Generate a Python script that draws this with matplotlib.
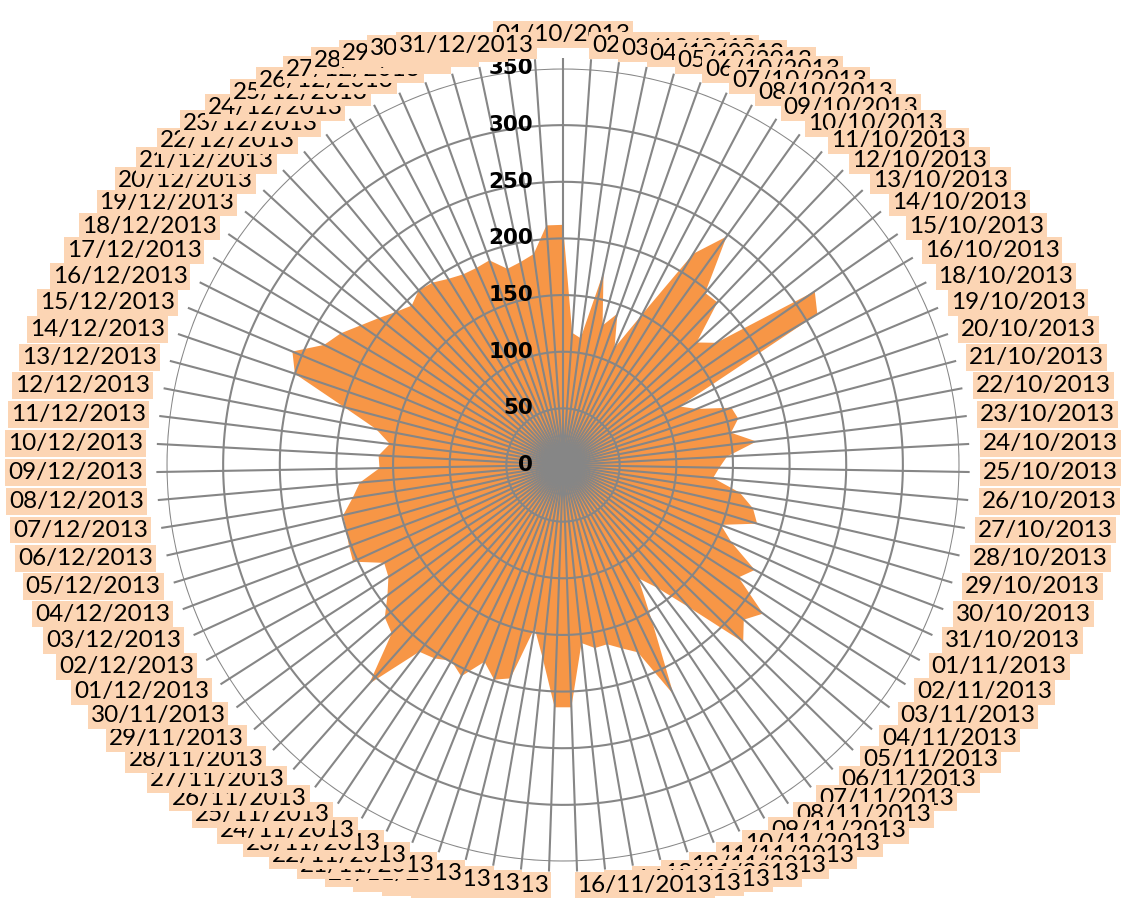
import numpy as np
import pandas as pd
import matplotlib
matplotlib.use('Agg')
import matplotlib.pyplot as plt
from matplotlib.transforms import offset_copy

# catégories : 01/10/2013 -> 31/12/2013, sans le 17/10 (absent du graphique)
days = pd.date_range('2013-10-01', '2013-12-31', freq='D')
days = days[days != pd.Timestamp('2013-10-17')]
categories = [d.strftime('%d/%m/%Y') for d in days]

values_oct = [212, 117, 113, 174, 128, 142, 113, 150, 219, 248, 197, 198, 160, 173, 270, 261,
              115, 128, 157, 160, 151, 172, 145, 138, 133, 158, 172, 179, 149, 164]
values_nov = [193, 184, 220, 210, 223, 168, 137, 120, 159, 225, 178, 170, 163, 164, 158,
              214, 214, 172, 146, 194, 199, 187, 207, 199, 205, 208, 258, 212, 207, 193]
values_dec = [183, 180, 204, 202, 200, 199, 188, 180, 162, 163, 154, 168, 200, 250, 259, 236,
              228, 217, 208, 200, 194, 200, 198, 193, 190, 190, 192, 180, 183, 188, 212]
values = values_oct + values_nov + values_dec

rings = [0, 50, 100, 150, 200, 250, 300, 350]

FILL = '#F79646'
LABEL_BG = '#FCD5B4'
GRID = '#868686'

n = len(categories)
theta = np.arange(n) * 2 * np.pi / n

fig = plt.figure(figsize=(11.25, 9.06), dpi=100)
ax = fig.add_axes([0.148, 0.0491, 0.7049, 0.8753], projection='polar')
ax.set_theta_zero_location('N')
ax.set_theta_direction(-1)
ax.set_ylim(0, 350)
ax.set_axis_off()

# --- surface remplie ---
ax.fill(np.append(theta, theta[0]), np.append(values, values[0]), color=FILL, lw=0, zorder=1)

# --- grille (cercles + rayons) ---
circ = np.linspace(0, 2 * np.pi, 600)
for r in rings[1:]:
    ax.plot(circ, np.full_like(circ, r), color=GRID, lw=1.5, zorder=2)
ax.vlines(theta, 0, 359, colors=GRID, lw=1.5, zorder=2, clip_on=False)

# --- étiquettes de l'axe des valeurs ---
trans = offset_copy(ax.transData, fig=fig, x=-30, y=0, units='dots')
for r in rings:
    ax.text(0, r, str(r), transform=trans, ha='right', va='center',
            fontsize=15.5, fontweight='bold', family='DejaVu Sans', zorder=5)

# --- étiquettes des dates ---
for i, (t, lab) in enumerate(zip(theta, categories)):
    deg = np.degrees(t)
    if i == 0:
        ha, va = 'center', 'bottom'
    elif deg < 180:
        ha, va = 'left', 'center'
    else:
        ha, va = 'right', 'center'
    ax.text(t, 371, lab, ha=ha, va=va, fontsize=17.5, family='Lato',
            bbox=dict(boxstyle='square,pad=0.12', fc=LABEL_BG, ec='none'),
            zorder=10 + i, clip_on=False)

fig.savefig('out.png', dpi=100)
